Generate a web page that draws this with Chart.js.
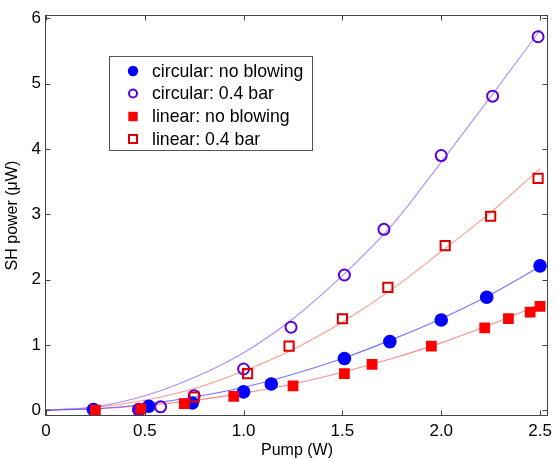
<!DOCTYPE html>
<html>
<head>
<meta charset="utf-8">
<script src="https://cdn.jsdelivr.net/npm/chart.js@4.4.1/dist/chart.umd.min.js"></script>
<style>
  html, body { margin: 0; padding: 0; background: #fff; }
  #wrap { width: 557px; height: 460px; }
</style>
</head>
<body>
<div id="wrap"><canvas id="shgChart" width="557" height="460"></canvas></div>
<script>
// measured points: pump (W) vs SH power (uW)
const circNoBlowX = [0.24, 0.47, 0.52, 0.74, 1.0, 1.14, 1.51, 1.74, 2.0, 2.23, 2.5];
const circNoBlowY = [0.01, 0.01, 0.06, 0.11, 0.28, 0.40, 0.79, 1.05, 1.38, 1.73, 2.21];
const circBlowX = [0.47, 0.58, 0.75, 1.0, 1.24, 1.51, 1.71, 2.0, 2.26, 2.49];
const circBlowY = [0.0, 0.05, 0.22, 0.63, 1.27, 2.07, 2.77, 3.9, 4.81, 5.72];
const linNoBlowX = [0.25, 0.48, 0.70, 0.95, 1.25, 1.51, 1.65, 1.95, 2.22, 2.34, 2.45, 2.5];
const linNoBlowY = [0.0, 0.02, 0.10, 0.21, 0.37, 0.56, 0.70, 0.98, 1.26, 1.40, 1.50, 1.59];
const linBlowX = [0.75, 1.02, 1.23, 1.50, 1.73, 2.02, 2.25, 2.49];
const linBlowY = [0.20, 0.56, 0.98, 1.40, 1.88, 2.52, 2.97, 3.55];

// fit curves at these pump values
const fitX = [0, 0.25, 0.5, 0.75, 1.0, 1.25, 1.5, 1.75, 2.0, 2.25, 2.5];
const fitCircNoBlow = [0, 0.02, 0.09, 0.2, 0.35, 0.55, 0.79, 1.08, 1.4, 1.77, 2.2];
const fitCircBlow = [0, 0.05, 0.22, 0.5, 0.88, 1.4, 2.06, 2.83, 3.8, 4.8, 5.82];
const fitLinNoBlow = [0, 0.02, 0.07, 0.15, 0.26, 0.4, 0.58, 0.79, 1.03, 1.31, 1.62];
const fitLinBlow = [0, 0.04, 0.15, 0.33, 0.6, 0.93, 1.35, 1.85, 2.43, 3.03, 3.7];

const xTicks = [0, 0.5, 1, 1.5, 2, 2.5];
const yTicks = [0, 1, 2, 3, 4, 5, 6];
const legendLabels = ['circular: no blowing', 'circular: 0.4 bar', 'linear: no blowing', 'linear: 0.4 bar'];

const FONT = '"Liberation Sans", Arial, sans-serif';

function pts(xs, ys) {
    return xs.map((x, i) => ({ x: x, y: ys[i] }));
}

function fitSet(ys, color) {
    return {
        data: pts(fitX, ys),
        showLine: true,
        borderColor: color,
        borderWidth: 1.1,
        pointRadius: 0,
        cubicInterpolationMode: 'monotone',
        order: 10,
        isFit: true
    };
}

// box around the plot with inward ticks on all four sides (matlab style)
const boxTicks = {
    id: 'boxTicks',
    afterDatasetsDraw(chart) {
        const { ctx, chartArea: a, scales } = chart;
        const x = scales.x, y = scales.y;
        ctx.save();
        ctx.strokeStyle = '#444';
        ctx.lineWidth = 1;
        const L = Math.round(a.left) - 0.5, R = Math.round(a.right) - 0.5;
        const T = Math.round(a.top) + 0.5, B = Math.round(a.bottom) - 0.5;
        ctx.strokeRect(L, T, R - L, B - T);
        ctx.beginPath();
        xTicks.forEach(v => {
            const px = Math.round(x.getPixelForValue(v)) + 0.5;
            ctx.moveTo(px, B); ctx.lineTo(px, B - 5);
            ctx.moveTo(px, T); ctx.lineTo(px, T + 5);
        });
        yTicks.forEach(v => {
            const py = Math.round(y.getPixelForValue(v)) + 0.5;
            ctx.moveTo(L, py); ctx.lineTo(L + 5, py);
            ctx.moveTo(R, py); ctx.lineTo(R - 5, py);
        });
        ctx.stroke();
        ctx.restore();
    }
};

// legend box drawn inside the plot area
const insideLegend = {
    id: 'insideLegend',
    afterDraw(chart) {
        const ctx = chart.ctx;
        const bx = 109.5, by = 56.5, bw = 203, bh = 94;
        ctx.save();
        ctx.fillStyle = '#fff';
        ctx.fillRect(bx, by, bw, bh);
        ctx.strokeStyle = '#555';
        ctx.lineWidth = 1;
        ctx.strokeRect(bx, by, bw, bh);
        ctx.font = '17.7px ' + FONT;
        ctx.textBaseline = 'middle';
        ctx.fillStyle = '#000';
        const rows = [71, 93.5, 116.5, 139];
        const markers = chart.data.datasets.filter(d => !d.isFit);
        markers.forEach((ds, i) => {
            const cy = rows[i], cx = 133;
            ctx.lineWidth = 2;
            ctx.strokeStyle = ds.borderColor;
            ctx.fillStyle = ds.backgroundColor;
            ctx.beginPath();
            if (ds.pointStyle === 'circle') {
                ctx.arc(cx, cy, ds.isOpen ? 4 : 5.2, 0, Math.PI * 2);
            } else {
                const s = ds.isOpen ? 4 : 4.7;
                ctx.rect(cx - s, cy - s, 2 * s, 2 * s);
            }
            if (ds.isOpen) ctx.stroke(); else ctx.fill();
            ctx.fillStyle = '#000';
            ctx.fillText(legendLabels[i], 152, cy + 1);
        });
        ctx.restore();
    }
};

const ctx = document.getElementById('shgChart').getContext('2d');
const myChart = new Chart(ctx, {
    type: 'scatter',
    data: {
        datasets: [
            {
                data: pts(circNoBlowX, circNoBlowY),
                pointStyle: 'circle', pointRadius: 6.8,
                backgroundColor: '#0000ff', borderColor: '#0000ff', borderWidth: 0,
                order: 4
            },
            {
                data: pts(circBlowX, circBlowY),
                pointStyle: 'circle', pointRadius: 5.5,
                backgroundColor: 'rgba(0,0,0,0)', borderColor: '#5a00dc', borderWidth: 2,
                order: 3, isOpen: true
            },
            {
                data: pts(linNoBlowX, linNoBlowY),
                pointStyle: 'rect', pointRadius: 7.6,
                backgroundColor: '#ff0000', borderColor: '#ff0000', borderWidth: 0,
                order: 2
            },
            {
                data: pts(linBlowX, linBlowY),
                pointStyle: 'rect', pointRadius: 6.5,
                backgroundColor: 'rgba(0,0,0,0)', borderColor: '#d80000', borderWidth: 2,
                order: 1, isOpen: true
            },
            fitSet(fitCircNoBlow, 'rgba(80,80,255,0.8)'),
            fitSet(fitCircBlow, 'rgba(160,120,255,0.85)'),
            fitSet(fitLinNoBlow, 'rgba(250,110,110,0.8)'),
            fitSet(fitLinBlow, 'rgba(250,130,110,0.8)')
        ]
    },
    options: {
        responsive: false,
        animation: false,
        devicePixelRatio: 1,
        layout: { padding: { left: 0, right: 6, top: 15, bottom: 0 } },
        plugins: { legend: { display: false }, tooltip: { enabled: false } },
        scales: {
            x: {
                type: 'linear', min: 0, max: 2.54,
                afterBuildTicks: s => { s.ticks = xTicks.map(v => ({ value: v })); },
                afterFit: s => { s.height = 44; },
                grid: { display: false, drawTicks: false },
                border: { display: false },
                ticks: { color: '#000', padding: 5, maxRotation: 0, font: { family: FONT, size: 17 } },
                title: { display: true, text: 'Pump (W)', color: '#000', padding: { top: 0, bottom: 0 }, font: { family: FONT, size: 16 } }
            },
            y: {
                type: 'linear', min: -0.09, max: 6.05,
                afterBuildTicks: s => { s.ticks = yTicks.map(v => ({ value: v })); },
                afterFit: s => { s.width = 46; },
                grid: { display: false, drawTicks: false },
                border: { display: false },
                ticks: { color: '#000', padding: 5, font: { family: FONT, size: 17 } },
                title: { display: true, text: 'SH power (\u03bcW)', color: '#000', padding: { top: 3, bottom: 0 }, font: { family: FONT, size: 16 } }
            }
        }
    },
    plugins: [boxTicks, insideLegend]
});
</script>
</body>
</html>
